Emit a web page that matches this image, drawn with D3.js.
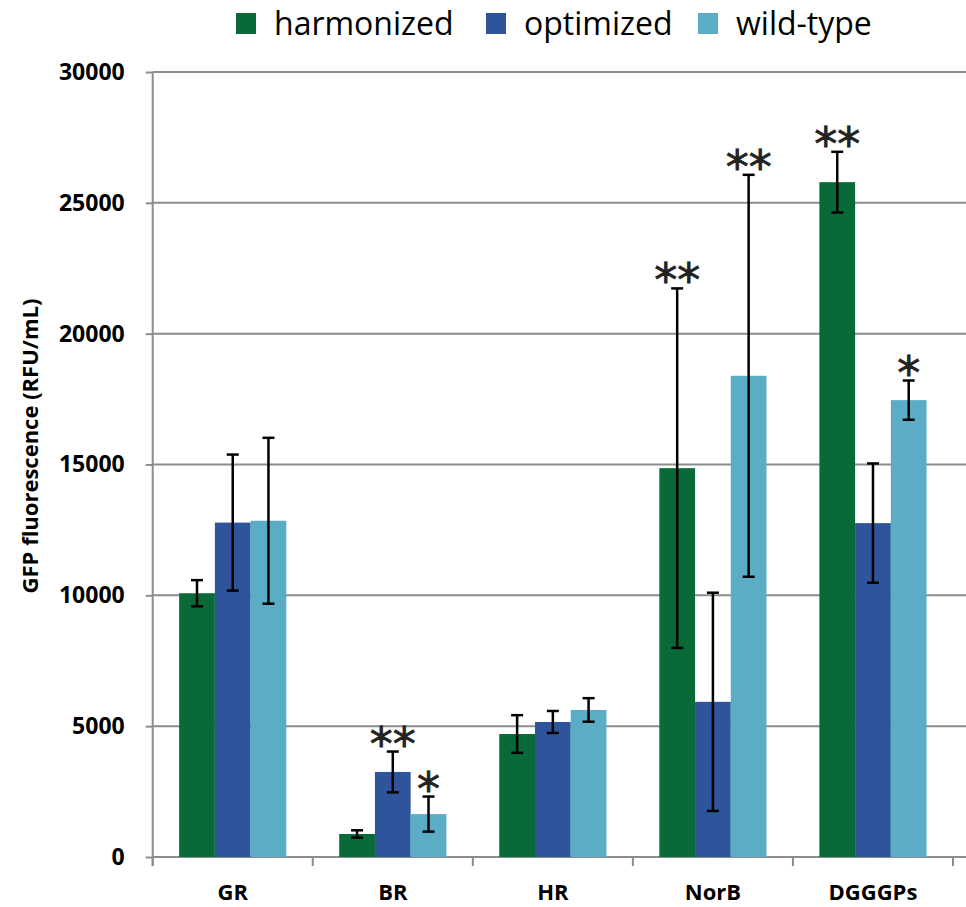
<!DOCTYPE html>
<html>
<head>
<meta charset="utf-8">
<script src="https://cdn.jsdelivr.net/npm/d3@7"></script>
<style>
  body { margin: 0; background: #fff; }
  svg { display: block; }
</style>
</head>
<body>
<svg width="966" height="907"></svg>
<script>
"use strict";
// values (RFU/mL)
const categories = ["GR", "BR", "HR", "NorB", "DGGGPs"];
const seriesNames = ["harmonized", "optimized", "wild-type"];
const harmonized = [10080, 880, 4700, 14860, 25790];
const optimized = [12780, 3250, 5160, 5930, 12760];
const wildType = [12850, 1640, 5620, 18390, 17460];
const harmonizedErr = [500, 140, 720, 6870, 1160];
const optimizedErr = [2600, 780, 420, 4170, 2280];
const wildTypeErr = [3170, 670, 450, 7680, 750];
// significance marks ("" = none)
const harmonizedSig = ["", "", "", "**", "**"];
const optimizedSig = ["", "**", "", "", ""];
const wildTypeSig = ["", "*", "", "**", "*"];
const yTicks = [0, 5000, 10000, 15000, 20000, 25000, 30000];

const colors = ["#076a37", "#2e559b", "#5badc6"];

window.addEventListener("load", drawChart);

function drawChart() {
    const svg = d3.select("svg");
    const left = 152.7, right = 953, gridRight = 966, top = 72, bottom = 857;

    const values = [harmonized, optimized, wildType];
    const errs = [harmonizedErr, optimizedErr, wildTypeErr];
    const sigs = [harmonizedSig, optimizedSig, wildTypeSig];

    const x0 = d3.scaleBand().domain(categories).range([left, right]).padding(0);
    const x1 = d3.scaleBand().domain(seriesNames).range([0, x0.bandwidth()])
        .paddingInner(0).paddingOuter(0.74);
    const y = d3.scaleLinear().domain([0, 30000]).range([bottom, top]);

    // gridlines
    svg.append("g")
        .selectAll("line")
        .data(yTicks)
        .join("line")
        .attr("x1", left).attr("x2", gridRight)
        .attr("y1", d => y(d)).attr("y2", d => y(d))
        .attr("stroke", "#8c8c8c")
        .attr("stroke-width", 2);

    // y axis
    const yAxis = svg.append("g")
        .attr("transform", `translate(${left},0)`)
        .call(d3.axisLeft(y).tickValues(yTicks).tickSize(7).tickPadding(21).tickFormat(d3.format("d")));
    yAxis.select(".domain").remove();
    yAxis.selectAll(".tick line").attr("stroke", "#8c8c8c").attr("stroke-width", 2);
    yAxis.selectAll("text")
        .attr("font-family", "'Open Sans', sans-serif")
        .attr("font-weight", "bold")
        .attr("font-size", 23)
        .attr("fill", "#000");
    svg.append("line")
        .attr("x1", left).attr("x2", left)
        .attr("y1", top).attr("y2", bottom + 9)
        .attr("stroke", "#8c8c8c").attr("stroke-width", 2);

    // x axis tick marks at category boundaries
    const bounds = categories.map(c => x0(c)).concat([right]);
    svg.append("g")
        .selectAll("line")
        .data(bounds)
        .join("line")
        .attr("x1", d => d).attr("x2", d => d)
        .attr("y1", bottom).attr("y2", bottom + 9)
        .attr("stroke", "#8c8c8c").attr("stroke-width", 2);

    svg.append("g")
        .selectAll("text")
        .data(categories)
        .join("text")
        .attr("x", d => x0(d) + x0.bandwidth() / 2)
        .attr("y", 900)
        .attr("text-anchor", "middle")
        .attr("font-family", "'Open Sans', sans-serif")
        .attr("font-weight", "bold")
        .attr("font-size", 22)
        .text(d => d);

    // bars
    seriesNames.forEach((s, si) => {
        svg.append("g")
            .selectAll("rect")
            .data(values[si])
            .join("rect")
            .attr("x", (d, i) => x0(categories[i]) + x1(s))
            .attr("y", d => y(d))
            .attr("width", x1.bandwidth())
            .attr("height", d => bottom - y(d))
            .attr("fill", colors[si]);
    });

    // error bars
    seriesNames.forEach((s, si) => {
        const g = svg.append("g").attr("stroke", "#000").attr("stroke-width", 2.5);
        values[si].forEach((v, i) => {
            const cx = x0(categories[i]) + x1(s) + x1.bandwidth() / 2;
            const e = errs[si][i];
            g.append("line").attr("x1", cx).attr("x2", cx).attr("y1", y(v + e)).attr("y2", y(v - e));
            g.append("line").attr("x1", cx - 6).attr("x2", cx + 6).attr("y1", y(v + e)).attr("y2", y(v + e));
            g.append("line").attr("x1", cx - 6).attr("x2", cx + 6).attr("y1", y(v - e)).attr("y2", y(v - e));
        });
    });

    // significance stars
    seriesNames.forEach((s, si) => {
        svg.append("g")
            .selectAll("text")
            .data(sigs[si])
            .join("text")
            .attr("x", (d, i) => x0(categories[i]) + x1(s) + x1.bandwidth() / 2)
            .attr("y", (d, i) => y(values[si][i] + errs[si][i]) + 8)
            .attr("text-anchor", "middle")
            .attr("font-family", "'DejaVu Sans', sans-serif")
            .attr("font-size", 46)
            .attr("fill", "#222")
            .attr("stroke", "#222")
            .attr("stroke-width", 0.8)
            .text(d => d);
    });

    // y axis title
    svg.append("text")
        .attr("transform", "translate(38,446) rotate(-90)")
        .attr("text-anchor", "middle")
        .attr("font-family", "'Open Sans', sans-serif")
        .attr("font-weight", "bold")
        .attr("font-size", 22)
        .text("GFP fluorescence (RFU/mL)");

    // legend
    const legendX = [236, 486, 698];
    const legend = svg.append("g");
    seriesNames.forEach((s, si) => {
        legend.append("rect")
            .attr("x", legendX[si]).attr("y", 13)
            .attr("width", 20).attr("height", 21)
            .attr("fill", colors[si]);
        legend.append("text")
            .attr("x", legendX[si] + 38).attr("y", 35)
            .attr("font-family", "'Open Sans', sans-serif")
            .attr("font-size", 32)
            .text(s);
    });
}
</script>
</body>
</html>
